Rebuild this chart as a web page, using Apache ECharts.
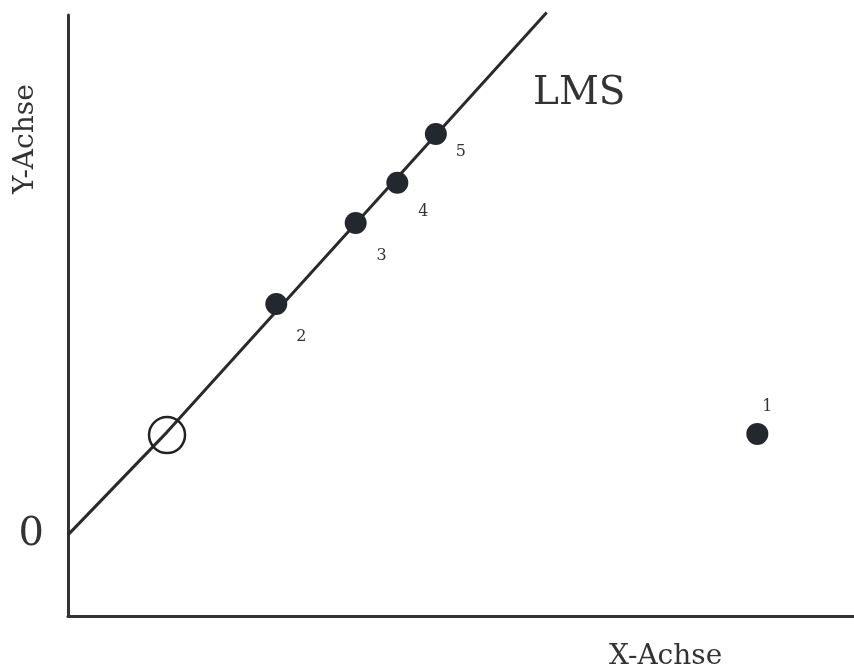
<!DOCTYPE html>
<html>
<head>
<meta charset="utf-8">
<script src="https://cdn.jsdelivr.net/npm/echarts@6/dist/echarts.min.js"></script>
<style>html,body{margin:0;padding:0;background:#fff}#c{width:854px;height:671px}</style>
</head>
<body>
<div id="c"></div>
<script>
// Data (arbitrary units)
const pointLabels = ['1', '2', '3', '4', '5'];
const pointX = [8.77, 2.65, 3.66, 4.19, 4.68];
const pointY = [1.68, 3.84, 5.19, 5.86, 6.67];
const openX = [1.26];
const openY = [1.66];
const lineX = [0, 1.26, 6.09];
const lineY = [0, 1.71, 8.69];
const yTickLabels = [0];
const xTitle = 'X-Achse';
const yTitle = 'Y-Achse';
const lineTitle = 'LMS';

const FONT = '"DejaVu Serif", serif';
const labelOffsets = [[10, -27], [25, 33], [26, 33], [26, 29], [25, 18]];

const chart = echarts.init(document.getElementById('c'));
chart.setOption({
  animation: false,
  backgroundColor: '#fff',
  grid: { left: 68, right: 0, top: 15, bottom: 55 },
  xAxis: {
    type: 'value', min: 0, max: 10,
    axisLine: { show: true, onZero: false, lineStyle: { color: '#333', width: 3 } },
    axisTick: { show: false }, axisLabel: { show: false }, splitLine: { show: false }
  },
  yAxis: {
    type: 'value', min: -1.35, max: 8.65,
    axisLine: { show: true, onZero: false, lineStyle: { color: '#333', width: 3 } },
    axisTick: { show: false },
    axisLabel: { show: true, customValues: yTickLabels, margin: 24,
      fontFamily: FONT, fontSize: 40, color: '#333', formatter: v => String(v) },
    splitLine: { show: false }
  },
  graphic: [
    { type: 'text', x: 533, y: 74, style: { text: lineTitle, font: '39px ' + FONT, fill: '#333' } },
    { type: 'text', x: 609, y: 643, style: { text: xTitle, font: '28px ' + FONT, fill: '#333' } },
    { type: 'text', x: 12, y: 194, rotation: Math.PI / 2, style: { text: yTitle, font: '28px ' + FONT, fill: '#333' } }
  ],
  series: [
    {
      type: 'line', data: lineX.map((x, i) => [x, lineY[i]]), clip: false,
      showSymbol: false, lineStyle: { color: '#2a2a2a', width: 3 }, z: 2
    },
    {
      type: 'scatter', data: openX.map((x, i) => [x, openY[i]]), symbol: 'circle', symbolSize: 36,
      itemStyle: { color: 'rgba(0,0,0,0)', borderColor: '#222', borderWidth: 2.5, opacity: 1 }, z: 3
    },
    {
      type: 'scatter', symbolSize: 22, z: 4,
      itemStyle: { color: '#23272e', opacity: 1 },
      data: pointX.map((x, i) => ({
        value: [x, pointY[i]],
        label: { show: true, formatter: pointLabels[i], position: 'inside',
          offset: labelOffsets[i], fontFamily: FONT, fontSize: 16, color: '#333' }
      }))
    }
  ]
});
</script>
</body>
</html>
